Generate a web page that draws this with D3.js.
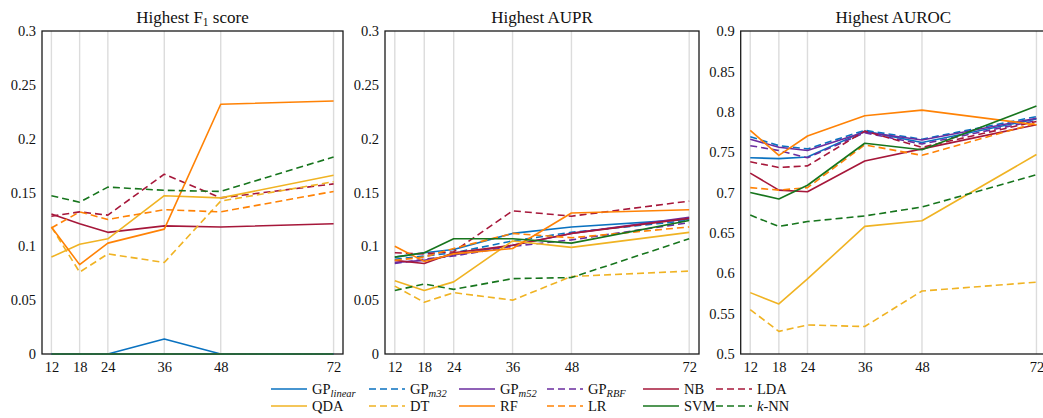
<!DOCTYPE html>
<html>
<head>
<meta charset="utf-8">
<script src="https://cdn.jsdelivr.net/npm/d3@7"></script>
<style>
  html, body { margin: 0; padding: 0; background: #fff; overflow: hidden; }
  svg { display: block; }
</style>
</head>
<body>
<svg id="chart" width="1043" height="418" font-family="'Liberation Serif', 'DejaVu Serif', serif"></svg>
<script>
// Forecast horizons (months) on the x axis
const horizons = [12, 18, 24, 36, 48, 72];

// Model names, in legend order
const models = ["GP_linear", "GP_m32", "GP_m52", "GP_RBF", "NB", "LDA",
                "QDA", "DT", "RF", "LR", "SVM", "k-NN"];

// Best F1 score per model and horizon
const f1Values = [
  [0, 0, 0, 0.014, 0, 0],
  [0, 0, 0, 0, 0, 0],
  [0, 0, 0, 0, 0, 0],
  [0, 0, 0, 0, 0, 0],
  [0.130, 0.121, 0.113, 0.119, 0.118, 0.121],
  [0.128, 0.132, 0.129, 0.167, 0.145, 0.158],
  [0.090, 0.102, 0.107, 0.147, 0.145, 0.166],
  [0.118, 0.076, 0.093, 0.085, 0.142, 0.160],
  [0.118, 0.083, 0.103, 0.116, 0.232, 0.235],
  [0.117, 0.132, 0.125, 0.134, 0.132, 0.151],
  [0, 0, 0, 0, 0, 0],
  [0.147, 0.141, 0.155, 0.152, 0.151, 0.183]
];

// Best area under the precision-recall curve
const auprValues = [
  [0.090, 0.094, 0.097, 0.112, 0.118, 0.125],
  [0.088, 0.091, 0.094, 0.105, 0.113, 0.124],
  [0.085, 0.087, 0.092, 0.101, 0.112, 0.127],
  [0.084, 0.088, 0.091, 0.100, 0.106, 0.122],
  [0.087, 0.084, 0.094, 0.101, 0.112, 0.126],
  [0.094, 0.093, 0.095, 0.133, 0.128, 0.142],
  [0.068, 0.059, 0.067, 0.105, 0.099, 0.113],
  [0.063, 0.048, 0.057, 0.050, 0.072, 0.077],
  [0.100, 0.086, 0.093, 0.098, 0.131, 0.134],
  [0.087, 0.090, 0.098, 0.112, 0.108, 0.118],
  [0.090, 0.094, 0.107, 0.107, 0.103, 0.124],
  [0.059, 0.065, 0.060, 0.070, 0.071, 0.107]
];

// Best area under the ROC curve
const aurocValues = [
  [0.743, 0.742, 0.744, 0.776, 0.762, 0.791],
  [0.769, 0.758, 0.754, 0.777, 0.766, 0.794],
  [0.766, 0.756, 0.752, 0.775, 0.765, 0.792],
  [0.758, 0.752, 0.743, 0.774, 0.760, 0.789],
  [0.724, 0.703, 0.701, 0.739, 0.754, 0.784],
  [0.738, 0.731, 0.733, 0.776, 0.756, 0.788],
  [0.576, 0.562, 0.593, 0.658, 0.665, 0.747],
  [0.555, 0.528, 0.536, 0.534, 0.578, 0.589],
  [0.777, 0.746, 0.770, 0.795, 0.802, 0.784],
  [0.706, 0.703, 0.706, 0.759, 0.746, 0.786],
  [0.700, 0.692, 0.709, 0.761, 0.753, 0.807],
  [0.672, 0.658, 0.664, 0.671, 0.682, 0.722]
];

// Y tick values per panel
const yTicksF1 = [0, 0.05, 0.1, 0.15, 0.2, 0.25, 0.3];
const yTicksAupr = [0, 0.05, 0.1, 0.15, 0.2, 0.25, 0.3];
const yTicksAuroc = [0.5, 0.55, 0.6, 0.65, 0.7, 0.75, 0.8, 0.85, 0.9];

// Styles
const SERIF = "'Liberation Serif', 'DejaVu Serif', serif";
const palette = {
  blue: "#0a72c0", purple: "#6a2c9f", crimson: "#a6173a",
  yellow: "#f0b323", orange: "#ff8205", green: "#17751d"
};
const modelColor = [palette.blue, palette.blue, palette.purple, palette.purple,
                    palette.crimson, palette.crimson, palette.yellow, palette.yellow,
                    palette.orange, palette.orange, palette.green, palette.green];
const modelDashed = [false, true, false, true, false, true,
                     false, true, false, true, false, true];
const DASH = "7,4";

const svg = d3.select("#chart");
const plotTop = 31, plotBottom = 354;

const panels = [
  { title: "f1", left: 42, right: 343, domain: [0, 0.3], ticks: yTicksF1, values: f1Values },
  { title: "AUPR", left: 385, right: 699, domain: [0, 0.3], ticks: yTicksAupr, values: auprValues },
  { title: "AUROC", left: 740.7, right: 1046, domain: [0.5, 0.9], ticks: yTicksAuroc, values: aurocValues }
];

const fmt = v => String(+v.toFixed(2));

panels.forEach(p => {
  const x = d3.scaleLinear().domain([10, 74]).range([p.left, p.right]);
  const y = d3.scaleLinear().domain(p.domain).range([plotBottom, plotTop]);
  const g = svg.append("g");

  // vertical grid at each horizon
  g.append("g").selectAll("line").data(horizons).join("line")
    .attr("x1", d => x(d)).attr("x2", d => x(d))
    .attr("y1", plotTop).attr("y2", plotBottom)
    .attr("stroke", "#dcdcdc").attr("stroke-width", 1.4);

  // frame (series are drawn over it)
  g.append("rect").attr("x", p.left).attr("y", plotTop)
    .attr("width", p.right - p.left).attr("height", plotBottom - plotTop)
    .attr("fill", "none").attr("stroke", "#1a1a1a").attr("stroke-width", 1.3);

  // series
  const line = d3.line().x((d, i) => x(horizons[i])).y(d => y(d));
  g.append("g").selectAll("path").data(p.values).join("path")
    .attr("d", d => line(d))
    .attr("fill", "none")
    .attr("stroke", (d, i) => modelColor[i])
    .attr("stroke-width", 1.6)
    .attr("stroke-linejoin", "round")
    .attr("stroke-dasharray", (d, i) => modelDashed[i] ? DASH : null);

  // axes
  const xAxis = d3.axisBottom(x).tickValues(horizons).tickSize(0).tickPadding(8)
    .tickFormat(d3.format("d"));
  const gx = g.append("g").attr("transform", `translate(0,${plotBottom})`).call(xAxis);
  const yAxis = d3.axisLeft(y).tickValues(p.ticks).tickSize(0).tickPadding(6).tickFormat(fmt);
  const gy = g.append("g").attr("transform", `translate(${p.left},0)`).call(yAxis);
  [gx, gy].forEach(a => {
    a.attr("font-family", SERIF).attr("font-size", 14.5);
    a.select(".domain").remove();
    a.selectAll("text").attr("fill", "#111");
  });

  // title
  const t = g.append("text").attr("x", (p.left + p.right) / 2).attr("y", 23)
    .attr("text-anchor", "middle").attr("font-family", SERIF)
    .attr("font-size", 17).attr("fill", "#111");
  if (p.title === "f1") {
    t.append("tspan").text("Highest F");
    t.append("tspan").attr("dy", 3).attr("font-size", 11.5).text("1");
    t.append("tspan").attr("dy", -3).text(" score");
  } else {
    t.text("Highest " + p.title);
  }
});

// Legend: 6 columns, 2 rows
const legendCols = [271, 369, 459, 547, 643, 716];
const legendRows = [389, 406];
const labelParts = {
  "GP_linear": ["GP", "linear"], "GP_m32": ["GP", "m32"],
  "GP_m52": ["GP", "m52"], "GP_RBF": ["GP", "RBF"]
};
models.forEach((m, i) => {
  const cx = legendCols[i % 6], cy = legendRows[Math.floor(i / 6)];
  const lg = svg.append("g");
  lg.append("line").attr("x1", cx).attr("x2", cx + 36).attr("y1", cy).attr("y2", cy)
    .attr("stroke", modelColor[i]).attr("stroke-width", 1.6)
    .attr("stroke-dasharray", modelDashed[i] ? DASH : null);
  const t = lg.append("text").attr("x", cx + 41).attr("y", cy + 5)
    .attr("font-family", SERIF).attr("font-size", 14.5).attr("fill", "#111");
  if (labelParts[m]) {
    t.append("tspan").text(labelParts[m][0]);
    t.append("tspan").attr("dy", 3).attr("font-size", 10.5).attr("font-style", "italic").text(labelParts[m][1]);
  } else if (m === "k-NN") {
    t.append("tspan").attr("font-style", "italic").text("k");
    t.append("tspan").text("-NN");
  } else {
    t.text(m);
  }
});
</script>
</body>
</html>
